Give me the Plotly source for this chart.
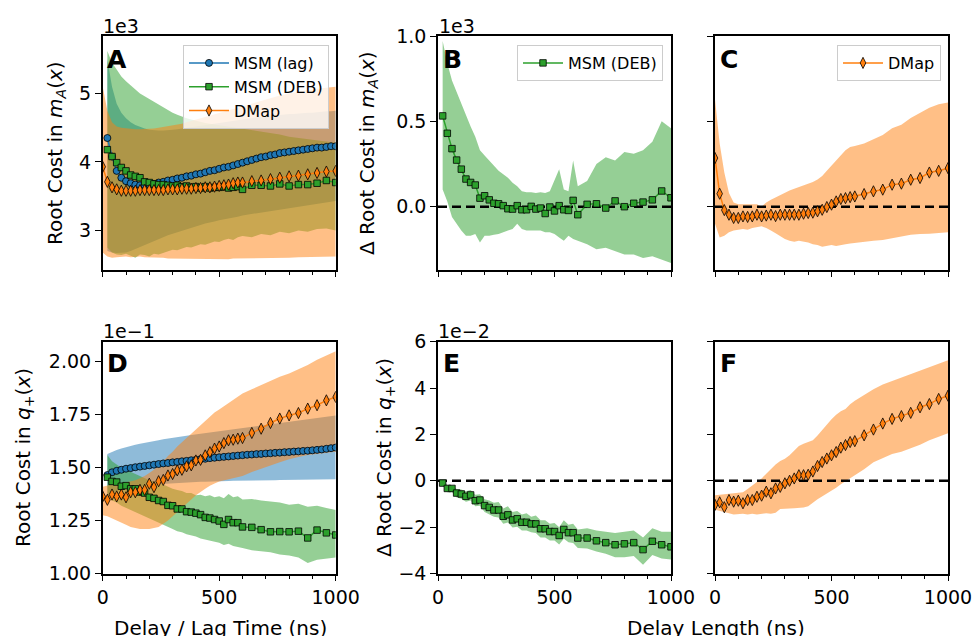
import plotly.graph_objects as go

# ---------------- data (display units: A-C x1e3, D x1e-1, E-F x1e-2) ----------------
x_lag = [20, 40, 60, 80, 100, 120, 140, 160, 180, 200, 220, 240, 260, 280, 300, 320, 340, 360, 380, 400,
         420, 440, 460, 480, 500, 520, 540, 560, 580, 600, 620, 640, 660, 680, 700, 720, 740, 760, 780, 800,
         820, 840, 860, 880, 900, 920, 940, 960, 980, 1000]
x_deb = [20, 40, 60, 80, 100, 120, 140, 160, 180, 200, 220, 240, 260, 280, 300, 320, 340, 360, 380, 400,
         420, 440, 460, 480, 500, 520, 540, 560, 580, 600, 640, 680, 720, 760, 800, 840, 880, 920, 960, 1000]
x_dmap = [0, 20, 40, 60, 80, 100, 120, 140, 160, 180, 200, 220, 240, 260, 280, 300, 320, 340, 360, 380, 400,
          420, 440, 460, 480, 500, 520, 540, 560, 580, 600, 640, 680, 720, 760, 800, 840, 880, 920, 960, 1000]

# Panel A
A_lag = [4.35, 4.08, 3.87, 3.77, 3.72, 3.69, 3.67, 3.66, 3.66, 3.67, 3.68, 3.70, 3.71, 3.73, 3.74, 3.76, 3.77, 3.79, 3.80, 3.82,
         3.83, 3.85, 3.87, 3.88, 3.90, 3.92, 3.93, 3.95, 3.97, 3.99, 4.01, 4.03, 4.05, 4.07, 4.08, 4.10, 4.11, 4.13, 4.14, 4.15,
         4.16, 4.17, 4.18, 4.19, 4.20, 4.21, 4.21, 4.22, 4.23, 4.23]
A_lag_hi = [5.50, 5.10, 4.85, 4.72, 4.64, 4.58, 4.54, 4.51, 4.49, 4.47, 4.46, 4.46, 4.46, 4.46, 4.47, 4.48, 4.49, 4.50, 4.51, 4.52,
            4.53, 4.54, 4.55, 4.56, 4.57, 4.58, 4.59, 4.60, 4.61, 4.62, 4.63, 4.64, 4.65, 4.66, 4.67, 4.67, 4.68, 4.69, 4.69, 4.70,
            4.70, 4.71, 4.71, 4.72, 4.72, 4.73, 4.73, 4.74, 4.74, 4.75]
A_lag_lo = [2.70, 2.68, 2.67, 2.67, 2.68, 2.70, 2.72, 2.75, 2.78, 2.81, 2.84, 2.87, 2.90, 2.93, 2.95, 2.98, 3.00, 3.02, 3.04, 3.06,
            3.08, 3.10, 3.12, 3.13, 3.15, 3.16, 3.18, 3.19, 3.20, 3.22, 3.23, 3.24, 3.26, 3.27, 3.28, 3.29, 3.30, 3.31, 3.32, 3.33,
            3.34, 3.35, 3.36, 3.37, 3.38, 3.39, 3.40, 3.41, 3.42, 3.43]
A_deb = [4.18, 4.08, 3.99, 3.92, 3.87, 3.81, 3.79, 3.77, 3.71, 3.70, 3.68, 3.67, 3.67, 3.66, 3.65, 3.66, 3.64, 3.65, 3.63, 3.64,
         3.62, 3.64, 3.62, 3.63, 3.63, 3.64, 3.62, 3.63, 3.64, 3.60, 3.66, 3.66, 3.65, 3.68, 3.65, 3.67, 3.67, 3.69, 3.73, 3.70]
A_deb_hi = [5.62, 5.45, 5.35, 5.25, 5.18, 5.12, 5.06, 5.00, 4.96, 4.92, 4.87, 4.83, 4.80, 4.76, 4.72, 4.69, 4.66, 4.64, 4.62, 4.60,
            4.58, 4.57, 4.56, 4.55, 4.54, 4.53, 4.52, 4.51, 4.50, 4.49, 4.47, 4.44, 4.42, 4.40, 4.37, 4.35, 4.33, 4.31, 4.30, 4.28]
A_deb_lo = [2.75, 2.68, 2.65, 2.64, 2.66, 2.63, 2.60, 2.65, 2.64, 2.62, 2.66, 2.65, 2.68, 2.70, 2.72, 2.71, 2.74, 2.76, 2.75, 2.78,
            2.80, 2.79, 2.82, 2.84, 2.83, 2.86, 2.88, 2.86, 2.90, 2.92, 2.90, 2.95, 2.93, 2.98, 2.96, 3.00, 2.98, 3.02, 3.03, 3.00]
A_dmap = [3.93, 3.71, 3.63, 3.60, 3.58, 3.58, 3.58, 3.58, 3.59, 3.59, 3.59, 3.59, 3.59, 3.59, 3.60, 3.60, 3.60, 3.61, 3.61, 3.61,
          3.62, 3.62, 3.63, 3.63, 3.64, 3.65, 3.66, 3.67, 3.69, 3.70, 3.70, 3.72, 3.73, 3.75, 3.77, 3.79, 3.80, 3.82, 3.84, 3.86, 3.87]
A_dmap_hi = [5.10, 4.75, 4.58, 4.52, 4.50, 4.49, 4.48, 4.48, 4.48, 4.48, 4.48, 4.49, 4.50, 4.51, 4.52, 4.53, 4.55, 4.56, 4.58, 4.60,
             4.62, 4.64, 4.66, 4.68, 4.70, 4.72, 4.74, 4.76, 4.78, 4.80, 4.82, 4.86, 4.90, 4.94, 4.97, 5.00, 5.03, 5.05, 5.07, 5.09, 5.10]
A_dmap_lo = [2.68, 2.62, 2.60, 2.61, 2.62, 2.62, 2.61, 2.61, 2.62, 2.61, 2.60, 2.60, 2.60, 2.60, 2.59, 2.59, 2.59, 2.59, 2.59, 2.58,
             2.58, 2.58, 2.58, 2.58, 2.58, 2.58, 2.58, 2.58, 2.59, 2.59, 2.59, 2.59, 2.60, 2.60, 2.60, 2.60, 2.61, 2.61, 2.61, 2.62, 2.62]

# Panel B
B_deb = [0.532, 0.43, 0.34, 0.273, 0.22, 0.162, 0.142, 0.127, 0.05, 0.064, 0.04, 0.02, 0.017, 0.006, -0.012, -0.014, 0.006, -0.018, -0.018, 0.002,
         -0.014, -0.008, -0.04, -0.002, -0.025, 0.006, -0.018, -0.022, 0.037, -0.047, 0.014, 0.017, -0.008, 0.034, 0.0, 0.02, 0.027, 0.04, 0.092, 0.052]
B_deb_hi = [0.97, 0.84, 0.74, 0.67, 0.60, 0.54, 0.47, 0.41, 0.33, 0.30, 0.27, 0.24, 0.21, 0.19, 0.17, 0.14, 0.12, 0.09, 0.085, 0.085,
            0.08, 0.085, 0.08, 0.09, 0.15, 0.22, 0.10, 0.09, 0.27, 0.12, 0.15, 0.25, 0.29, 0.27, 0.32, 0.31, 0.33, 0.38, 0.50, 0.46]
B_deb_lo = [0.10, 0.03, -0.06, -0.10, -0.14, -0.17, -0.17, -0.16, -0.21, -0.17, -0.17, -0.165, -0.16, -0.15, -0.14, -0.13, -0.10, -0.13, -0.14, -0.14,
            -0.14, -0.14, -0.15, -0.15, -0.16, -0.18, -0.20, -0.17, -0.19, -0.20, -0.22, -0.25, -0.24, -0.26, -0.28, -0.28, -0.30, -0.29, -0.31, -0.33]

# Panel C
C_dmap = [0.285, 0.076, -0.02, -0.047, -0.066, -0.066, -0.057, -0.06, -0.057, -0.047, -0.057, -0.052, -0.047, -0.055, -0.047, -0.047, -0.047, -0.047, -0.047, -0.041,
          -0.037, -0.035, -0.027, -0.018, -0.002, 0.012, 0.031, 0.045, 0.05, 0.056, 0.06, 0.074, 0.09, 0.10, 0.129, 0.135, 0.158, 0.168, 0.20, 0.21, 0.226]
C_dmap_hi = [0.63, 0.37, 0.20, 0.08, 0.025, 0.015, 0.015, 0.015, 0.017, 0.015, 0.0, 0.025, 0.04, 0.055, 0.07, 0.085, 0.095, 0.105, 0.115, 0.125,
             0.135, 0.145, 0.16, 0.18, 0.21, 0.24, 0.27, 0.30, 0.33, 0.35, 0.355, 0.37, 0.395, 0.42, 0.46, 0.48, 0.52, 0.55, 0.58, 0.60, 0.61]
C_dmap_lo = [-0.10, -0.18, -0.17, -0.15, -0.14, -0.135, -0.13, -0.135, -0.125, -0.12, -0.115, -0.125, -0.14, -0.155, -0.17, -0.19, -0.20, -0.205, -0.20, -0.205,
             -0.21, -0.22, -0.225, -0.235, -0.23, -0.225, -0.23, -0.225, -0.22, -0.215, -0.21, -0.205, -0.20, -0.195, -0.185, -0.175, -0.165, -0.16, -0.158, -0.155, -0.15]

# Panel D
D_lag = [1.465, 1.478, 1.485, 1.49, 1.495, 1.498, 1.502, 1.505, 1.508, 1.511, 1.514, 1.517, 1.52, 1.522, 1.525, 1.527, 1.53, 1.532, 1.535, 1.537,
         1.54, 1.542, 1.545, 1.547, 1.549, 1.551, 1.553, 1.555, 1.557, 1.559, 1.561, 1.562, 1.564, 1.565, 1.567, 1.568, 1.57, 1.571, 1.573, 1.574,
         1.576, 1.577, 1.579, 1.58, 1.582, 1.584, 1.586, 1.589, 1.592, 1.595]
D_lag_hi = [1.565, 1.575, 1.583, 1.59, 1.597, 1.603, 1.608, 1.613, 1.618, 1.622, 1.626, 1.63, 1.634, 1.638, 1.642, 1.645, 1.648, 1.651, 1.654, 1.657,
            1.66, 1.663, 1.666, 1.669, 1.672, 1.675, 1.678, 1.681, 1.684, 1.687, 1.69, 1.693, 1.696, 1.699, 1.702, 1.705, 1.708, 1.711, 1.714, 1.717,
            1.72, 1.723, 1.726, 1.729, 1.732, 1.735, 1.738, 1.741, 1.744, 1.746]
D_lag_lo = [1.37, 1.38, 1.39, 1.395, 1.40, 1.405, 1.41, 1.413, 1.416, 1.419, 1.421, 1.423, 1.425, 1.426, 1.427, 1.428, 1.429, 1.43, 1.431, 1.432,
            1.433, 1.434, 1.435, 1.436, 1.436, 1.437, 1.437, 1.438, 1.438, 1.439, 1.439, 1.44, 1.44, 1.44, 1.441, 1.441, 1.441, 1.442, 1.442, 1.442,
            1.443, 1.443, 1.443, 1.444, 1.444, 1.444, 1.445, 1.445, 1.445, 1.445]
D_deb = [1.455, 1.435, 1.432, 1.412, 1.415, 1.40, 1.40, 1.385, 1.38, 1.36, 1.355, 1.345, 1.34, 1.322, 1.32, 1.305, 1.305, 1.292, 1.29, 1.285,
         1.278, 1.265, 1.262, 1.255, 1.248, 1.232, 1.255, 1.24, 1.24, 1.22, 1.218, 1.207, 1.197, 1.198, 1.197, 1.20, 1.168, 1.205, 1.192, 1.182]
D_deb_hi = [1.56, 1.53, 1.515, 1.50, 1.49, 1.48, 1.47, 1.46, 1.45, 1.44, 1.435, 1.425, 1.42, 1.41, 1.40, 1.395, 1.39, 1.38, 1.38, 1.37,
            1.372, 1.365, 1.37, 1.36, 1.365, 1.355, 1.375, 1.36, 1.365, 1.35, 1.352, 1.345, 1.34, 1.335, 1.325, 1.33, 1.315, 1.32, 1.31, 1.30]
D_deb_lo = [1.36, 1.345, 1.335, 1.32, 1.31, 1.30, 1.29, 1.28, 1.27, 1.26, 1.25, 1.24, 1.23, 1.22, 1.21, 1.20, 1.195, 1.185, 1.18, 1.175,
            1.165, 1.16, 1.155, 1.15, 1.145, 1.135, 1.14, 1.13, 1.125, 1.12, 1.11, 1.105, 1.10, 1.09, 1.085, 1.075, 1.05, 1.065, 1.07, 1.075]
D_dmap = [1.364, 1.348, 1.373, 1.364, 1.373, 1.36, 1.384, 1.384, 1.395, 1.395, 1.424, 1.408, 1.436, 1.442, 1.463, 1.47, 1.487, 1.49, 1.506, 1.511,
          1.534, 1.537, 1.558, 1.573, 1.59, 1.60, 1.616, 1.629, 1.632, 1.637, 1.64, 1.664, 1.684, 1.711, 1.732, 1.747, 1.758, 1.779, 1.795, 1.818, 1.834]
D_dmap_hi = [1.41, 1.415, 1.42, 1.42, 1.425, 1.43, 1.435, 1.44, 1.45, 1.46, 1.475, 1.49, 1.51, 1.53, 1.555, 1.575, 1.60, 1.62, 1.64, 1.66,
             1.68, 1.70, 1.72, 1.74, 1.76, 1.775, 1.79, 1.805, 1.82, 1.835, 1.85, 1.87, 1.89, 1.91, 1.93, 1.945, 1.965, 1.985, 2.01, 2.03, 2.05]
D_dmap_lo = [1.275, 1.27, 1.26, 1.25, 1.24, 1.23, 1.22, 1.215, 1.21, 1.21, 1.21, 1.215, 1.22, 1.235, 1.25, 1.27, 1.29, 1.31, 1.33, 1.35,
             1.37, 1.385, 1.40, 1.415, 1.425, 1.435, 1.44, 1.445, 1.45, 1.455, 1.46, 1.48, 1.495, 1.51, 1.525, 1.54, 1.55, 1.56, 1.565, 1.57, 1.575]

# Panel E
E_deb = [-0.10, -0.33, -0.33, -0.53, -0.57, -0.67, -0.61, -0.86, -0.83, -1.07, -1.15, -1.26, -1.26, -1.53, -1.47, -1.69, -1.64, -1.79, -1.79, -1.86,
         -1.86, -2.07, -2.07, -2.19, -2.19, -2.36, -2.10, -2.24, -2.24, -2.47, -2.47, -2.59, -2.67, -2.76, -2.72, -2.67, -2.97, -2.61, -2.76, -2.85]
E_deb_hi = [0.0, -0.18, -0.20, -0.35, -0.38, -0.45, -0.40, -0.60, -0.58, -0.80, -0.85, -0.95, -0.92, -1.20, -1.10, -1.35, -1.30, -1.45, -1.40, -1.55,
            -1.50, -1.70, -1.70, -1.85, -1.82, -2.00, -1.70, -1.90, -1.85, -2.10, -2.05, -2.15, -2.20, -2.25, -2.20, -2.15, -2.45, -2.05, -2.20, -2.20]
E_deb_lo = [-0.20, -0.50, -0.50, -0.72, -0.78, -0.90, -0.85, -1.10, -1.08, -1.35, -1.45, -1.55, -1.58, -1.85, -1.80, -2.02, -1.98, -2.15, -2.15, -2.22,
            -2.25, -2.45, -2.45, -2.58, -2.58, -2.75, -2.50, -2.65, -2.68, -2.90, -2.92, -3.05, -3.15, -3.30, -3.30, -3.25, -3.62, -3.20, -3.35, -3.40]

# Panel F
F_dmap = [-1.04, -0.93, -1.14, -0.83, -0.90, -0.86, -0.97, -0.83, -0.83, -0.69, -0.64, -0.47, -0.54, -0.33, -0.26, -0.11, 0.0, 0.10, 0.24, 0.24,
          0.26, 0.40, 0.64, 0.81, 0.96, 1.10, 1.24, 1.43, 1.54, 1.67, 1.71, 1.96, 2.21, 2.47, 2.67, 2.79, 2.93, 3.17, 3.31, 3.53, 3.67]
F_dmap_hi = [-0.62, -0.60, -0.60, -0.55, -0.55, -0.52, -0.50, -0.35, -0.20, -0.05, 0.10, 0.30, 0.50, 0.70, 0.85, 0.95, 1.10, 1.30, 1.50, 1.60,
             1.68, 1.75, 1.95, 2.20, 2.45, 2.65, 2.85, 3.00, 3.10, 3.30, 3.45, 3.70, 3.95, 4.15, 4.30, 4.45, 4.60, 4.75, 4.90, 5.05, 5.20]
F_dmap_lo = [-1.25, -1.30, -1.35, -1.40, -1.45, -1.45, -1.42, -1.45, -1.42, -1.45, -1.43, -1.40, -1.42, -1.38, -1.22, -1.20, -1.20, -1.18, -1.18, -1.15,
             -1.10, -0.95, -0.80, -0.68, -0.55, -0.42, -0.30, -0.15, 0.0, 0.12, 0.25, 0.50, 0.80, 0.98, 1.15, 1.25, 1.40, 1.55, 1.75, 1.90, 2.05]

# ---------------- styling ----------------
W, H = 975, 636
FONT = "DejaVu Sans"
BLUE, GREEN, ORANGE = "#1f77b4", "#2ca02c", "#ff7f0e"
FILL = {BLUE: "rgba(31,119,180,0.5)", GREEN: "rgba(44,160,44,0.5)", ORANGE: "rgba(255,127,14,0.5)"}
SYM = {BLUE: ("circle", 7), GREEN: ("square", 6.5), ORANGE: ("diamond-tall", 8)}

col_px = [(102.7, 335.7), (438.0, 671.0), (715.0, 948.0)]
row_px = [(36.0, 269.5), (341.7, 573.5)]

fig = go.Figure()


def band(xs, lo, hi, color, n):
    fig.add_trace(go.Scatter(x=list(xs) + list(xs)[::-1], y=list(hi) + list(lo)[::-1], fill="toself",
                             fillcolor=FILL[color], line=dict(width=0), mode="lines", hoverinfo="skip",
                             showlegend=False, xaxis=f"x{n}", yaxis=f"y{n}"))


def line(xs, ys, color, n, name, legend=None):
    sym, size = SYM[color]
    fig.add_trace(go.Scatter(x=xs, y=ys, mode="lines+markers", name=name,
                             line=dict(color=color, width=1.5),
                             marker=dict(symbol=sym, size=size, color=color, line=dict(color="black", width=0.8)),
                             showlegend=legend is not None, legend=legend or "legend",
                             xaxis=f"x{n}", yaxis=f"y{n}"))


def zero(n):
    fig.add_trace(go.Scatter(x=[0, 1000], y=[0, 0], mode="lines", line=dict(color="black", width=2.5, dash="9px,5px"),
                             showlegend=False, hoverinfo="skip", xaxis=f"x{n}", yaxis=f"y{n}"))


# Panel A
band(x_lag, A_lag_lo, A_lag_hi, BLUE, 1)
band(x_deb, A_deb_lo, A_deb_hi, GREEN, 1)
band(x_dmap, A_dmap_lo, A_dmap_hi, ORANGE, 1)
line(x_lag, A_lag, BLUE, 1, "MSM (lag)", "legend")
line(x_deb, A_deb, GREEN, 1, "MSM (DEB)", "legend")
line(x_dmap, A_dmap, ORANGE, 1, "DMap", "legend")
# Panel B
band(x_deb, B_deb_lo, B_deb_hi, GREEN, 2)
zero(2)
line(x_deb, B_deb, GREEN, 2, "MSM (DEB)", "legend2")
# Panel C
band(x_dmap, C_dmap_lo, C_dmap_hi, ORANGE, 3)
zero(3)
line(x_dmap, C_dmap, ORANGE, 3, "DMap", "legend3")
# Panel D
band(x_lag, D_lag_lo, D_lag_hi, BLUE, 4)
band(x_deb, D_deb_lo, D_deb_hi, GREEN, 4)
band(x_dmap, D_dmap_lo, D_dmap_hi, ORANGE, 4)
line(x_lag, D_lag, BLUE, 4, "MSM (lag)")
line(x_deb, D_deb, GREEN, 4, "MSM (DEB)")
line(x_dmap, D_dmap, ORANGE, 4, "DMap")
# Panel E
band(x_deb, E_deb_lo, E_deb_hi, GREEN, 5)
zero(5)
line(x_deb, E_deb, GREEN, 5, "MSM (DEB)")
# Panel F
band(x_dmap, F_dmap_lo, F_dmap_hi, ORANGE, 6)
zero(6)
line(x_dmap, F_dmap, ORANGE, 6, "DMap")

axis_common = dict(showline=True, linecolor="black", linewidth=1.5, mirror=True, ticks="outside", ticklen=6,
                   tickwidth=1.3, tickcolor="black", showgrid=False, zeroline=False, automargin=False,
                   tickfont=dict(family=FONT, size=19, color="black"))

yconf = {
    1: dict(range=[2.43, 5.84], tickvals=[3, 4, 5], ticktext=["3", "4", "5"], showticklabels=True),
    2: dict(range=[-0.368, 1.0], tickvals=[0.0, 0.5, 1.0], ticktext=["0.0", "0.5", "1.0"], showticklabels=True),
    3: dict(range=[-0.368, 1.0], tickvals=[0.0, 0.5, 1.0], showticklabels=False),
    4: dict(range=[1.0, 2.095], tickvals=[1.0, 1.25, 1.5, 1.75, 2.0], ticktext=["1.00", "1.25", "1.50", "1.75", "2.00"], showticklabels=True),
    5: dict(range=[-4, 6], tickvals=[-4, -2, 0, 2, 4, 6], ticktext=["\u22124", "\u22122", "0", "2", "4", "6"], showticklabels=True),
    6: dict(range=[-4, 6], tickvals=[-4, -2, 0, 2, 4, 6], showticklabels=False),
}

layout_axes = {}
for n in range(1, 7):
    r = 0 if n <= 3 else 1
    c = (n - 1) % 3
    x0, x1 = col_px[c]
    ytop, ybot = row_px[r]
    xa = dict(axis_common, domain=[x0 / W, x1 / W], range=[0, 1000], tick0=0, dtick=500,
              minor=dict(tick0=0, dtick=100, ticks="outside", ticklen=3.5, tickwidth=1, tickcolor="black"),
              showticklabels=(r == 1), anchor=f"y{n}")
    ya = dict(axis_common, domain=[1 - ybot / H, 1 - ytop / H], anchor=f"x{n}", **yconf[n])
    layout_axes["xaxis" if n == 1 else f"xaxis{n}"] = xa
    layout_axes["yaxis" if n == 1 else f"yaxis{n}"] = ya

legend_style = dict(bgcolor="rgba(255,255,255,0.8)", bordercolor="#cccccc", borderwidth=1,
                    font=dict(family=FONT, size=16, color="black"), xanchor="right", yanchor="top",
                    xref="paper", yref="paper", traceorder="normal", itemwidth=40)

ann = []


def text(x, y, s, size=19, bold=False, angle=0, xanchor="center", yanchor="middle"):
    ann.append(dict(x=x / W, y=1 - y / H, xref="paper", yref="paper", text=f"<b>{s}</b>" if bold else s,
                    showarrow=False, textangle=angle, xanchor=xanchor, yanchor=yanchor,
                    font=dict(family=FONT, size=size, color="black")))


# panel letters
for letter, (px, py) in zip("ABCDEF", [(105, 59), (441, 59), (718, 59), (105, 363), (441, 363), (718, 363)]):
    text(px, py, letter, size=25, bold=True, xanchor="left")
# offset texts
text(101, 26, "1e3", xanchor="left")
text(437, 26, "1e3", xanchor="left")
text(101, 331, "1e\u22121", xanchor="left")
text(436, 331, "1e\u22122", xanchor="left")
# y labels
text(56, 153, "Root Cost in <i>m</i><sub><i>A</i></sub>(<i>x</i>)", size=20, angle=-90)
text(368, 153, "\u0394 Root Cost in <i>m</i><sub><i>A</i></sub>(<i>x</i>)", size=20, angle=-90)
text(24, 458, "Root Cost in <i>q</i><sub>+</sub>(<i>x</i>)", size=20, angle=-90)
text(385, 458, "\u0394 Root Cost in <i>q</i><sub>+</sub>(<i>x</i>)", size=20, angle=-90)
# x labels
text(220, 628, "Delay / Lag Time (ns)", size=20)
text(716, 628, "Delay Length (ns)", size=20)

fig.update_layout(
    width=W, height=H, autosize=False,
    margin=dict(l=0, r=0, t=0, b=0, autoexpand=False),
    paper_bgcolor="white", plot_bgcolor="white",
    font=dict(family=FONT, size=19, color="black"),
    legend=dict(legend_style, x=329 / W, y=1 - 45 / H),
    legend2=dict(legend_style, x=663 / W, y=1 - 45 / H),
    legend3=dict(legend_style, x=941 / W, y=1 - 45 / H),
    annotations=ann,
    **layout_axes,
)

fig.write_html("out.html", config={"displayModeBar": False},
               post_script="document.body.style.margin='0px';document.body.style.padding='0px';"
                           "document.body.style.overflow='hidden';")
